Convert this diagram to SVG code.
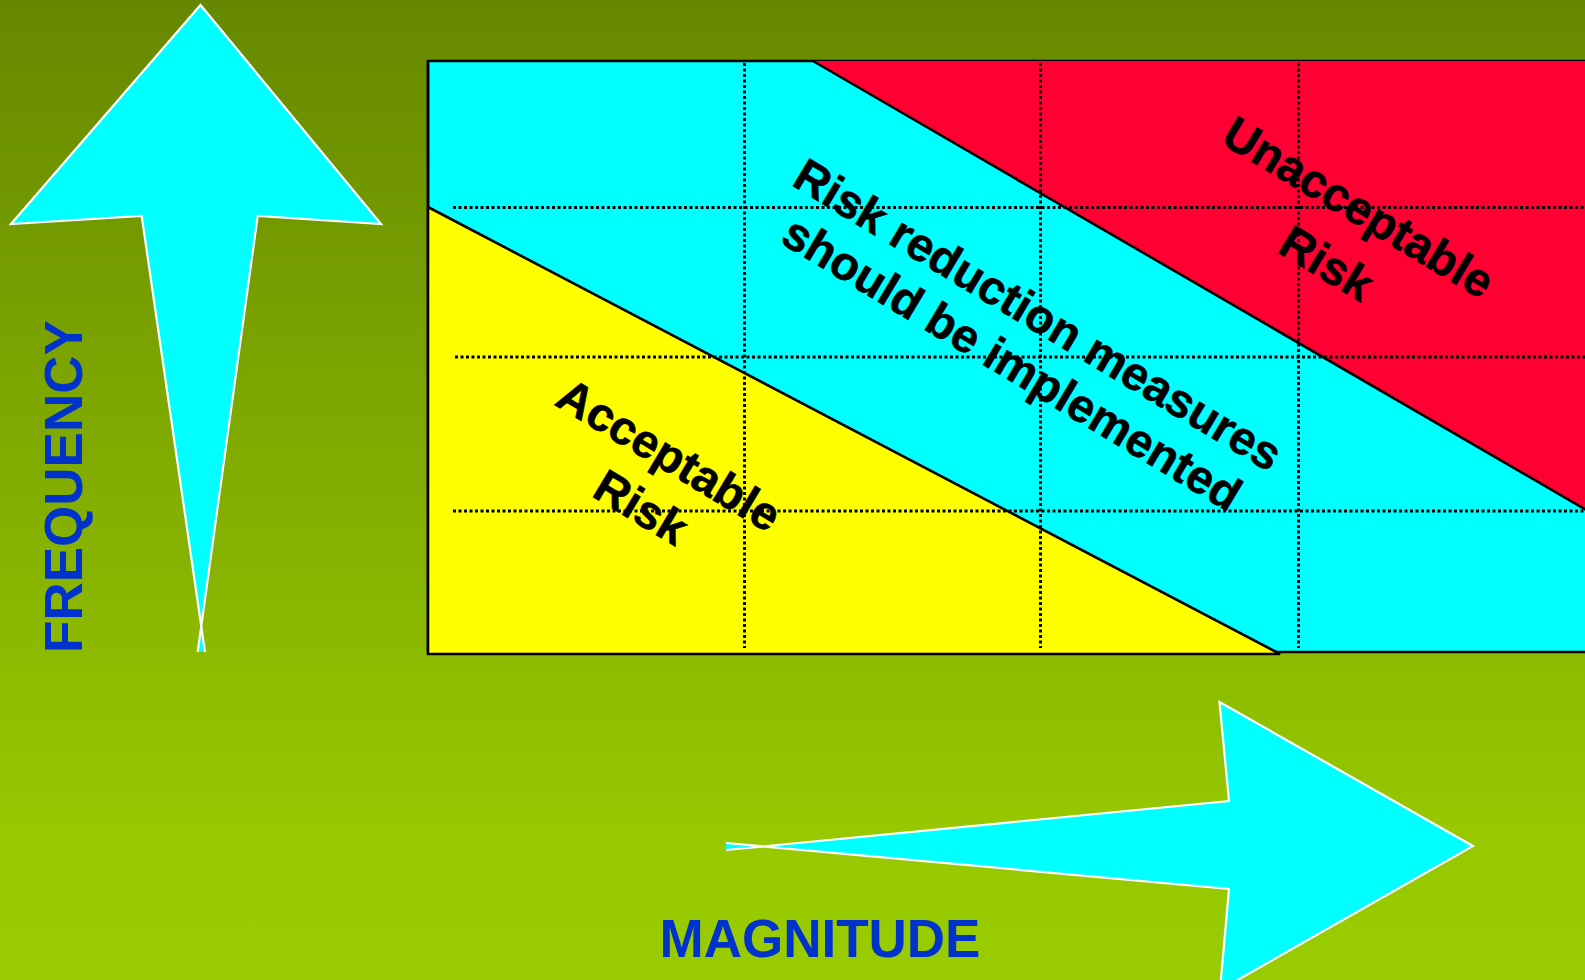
<svg xmlns="http://www.w3.org/2000/svg" width="1585" height="980" viewBox="0 0 1585 980">
  <defs>
    <linearGradient id="bg" x1="0" y1="0" x2="0" y2="1">
      <stop offset="0" stop-color="#668800"/>
      <stop offset="0.85" stop-color="#97C800"/>
      <stop offset="1" stop-color="#99CC00"/>
    </linearGradient>
  </defs>
  <style>
    .arrow-fill { fill: #00FFFF; stroke: none; }
    .arrow-edge { fill: none; stroke: #FFFFFF; stroke-width: 2.2; stroke-linejoin: miter; }
    .axis { font-family: "Liberation Sans", Arial, sans-serif; font-weight: bold; font-size: 53px; fill: #0033CC; text-anchor: middle; }
    .zone { font-family: "Liberation Sans", Arial, sans-serif; font-weight: bold; font-size: 47px; fill: #000000; stroke: #000000; stroke-width: 0.6; text-anchor: middle; }
    .grid { stroke: #000000; stroke-width: 3; stroke-dasharray: 3 2.5; fill: none; }
    .edge { stroke: #000000; stroke-width: 2.6; fill: none; }
  </style>

  <rect x="0" y="0" width="1585" height="980" fill="url(#bg)"/>

  <g id="frequency-axis">
    <polygon class="arrow-fill" points="200.5,5 381,224 257.7,216 197.7,651.5 205,651.5 141.7,216 11,224"/>
    <polyline class="arrow-edge" points="197.7,652 257.7,216 381,224 200.5,5 11,224 141.7,216 205,652"/>
    <text class="axis" transform="translate(82,486.5) rotate(-90)">FREQUENCY</text>
  </g>

  <g id="magnitude-axis">
    <polygon class="arrow-fill" points="1473,846 1219.5,702 1229,801 726,850 726,843 1229,889 1220,990"/>
    <polyline class="arrow-edge" points="726,843 1229,889 1220,990 1473,846 1219.5,702 1229,801 726,850"/>
    <text class="axis" x="820" y="957">MAGNITUDE</text>
  </g>

  <g id="risk-matrix">
    <rect id="zone-reduction" x="428" y="61" width="1200" height="591" fill="#00FFFF" stroke="#000000" stroke-width="2.5"/>
    <polygon id="zone-unacceptable" points="813,61 1600,61 1600,518" fill="#FF0033"/>
    <polygon id="zone-acceptable" points="428,207 1280,654 428,654" fill="#FFFF00"/>
    <g id="grid">
      <line class="grid" x1="744.5" y1="63" x2="744.5" y2="648"/>
      <line class="grid" x1="1040.5" y1="63" x2="1040.5" y2="648"/>
      <line class="grid" x1="1298.5" y1="63" x2="1298.5" y2="648"/>
      <line class="grid" x1="453" y1="207.5" x2="1585" y2="207.5"/>
      <line class="grid" x1="455" y1="357" x2="1585" y2="357"/>
      <line class="grid" x1="453" y1="511" x2="1585" y2="511"/>
    </g>
    <g id="boundaries">
      <line class="edge" x1="813" y1="61" x2="1600" y2="518"/>
      <polyline class="edge" points="428,207 1280,654 428,654 428,61"/>
    </g>
  </g>

  <g id="label-unacceptable">
    <text class="zone" transform="translate(1356.5,211) rotate(31)" y="12">Unacceptable</text>
    <text class="zone" transform="translate(1327,262.5) rotate(31)" y="17">Risk</text>
  </g>
  <g id="label-reduction">
    <text class="zone" transform="translate(1038.5,314) rotate(31)" y="17">Risk reduction measures</text>
    <text class="zone" transform="translate(1010,367) rotate(31)" y="12">should be implemented</text>
  </g>
  <g id="label-acceptable">
    <text class="zone" transform="translate(667,458.5) rotate(31)" y="12">Acceptable</text>
    <text class="zone" transform="translate(641.5,506.5) rotate(31)" y="17">Risk</text>
  </g>
</svg>
